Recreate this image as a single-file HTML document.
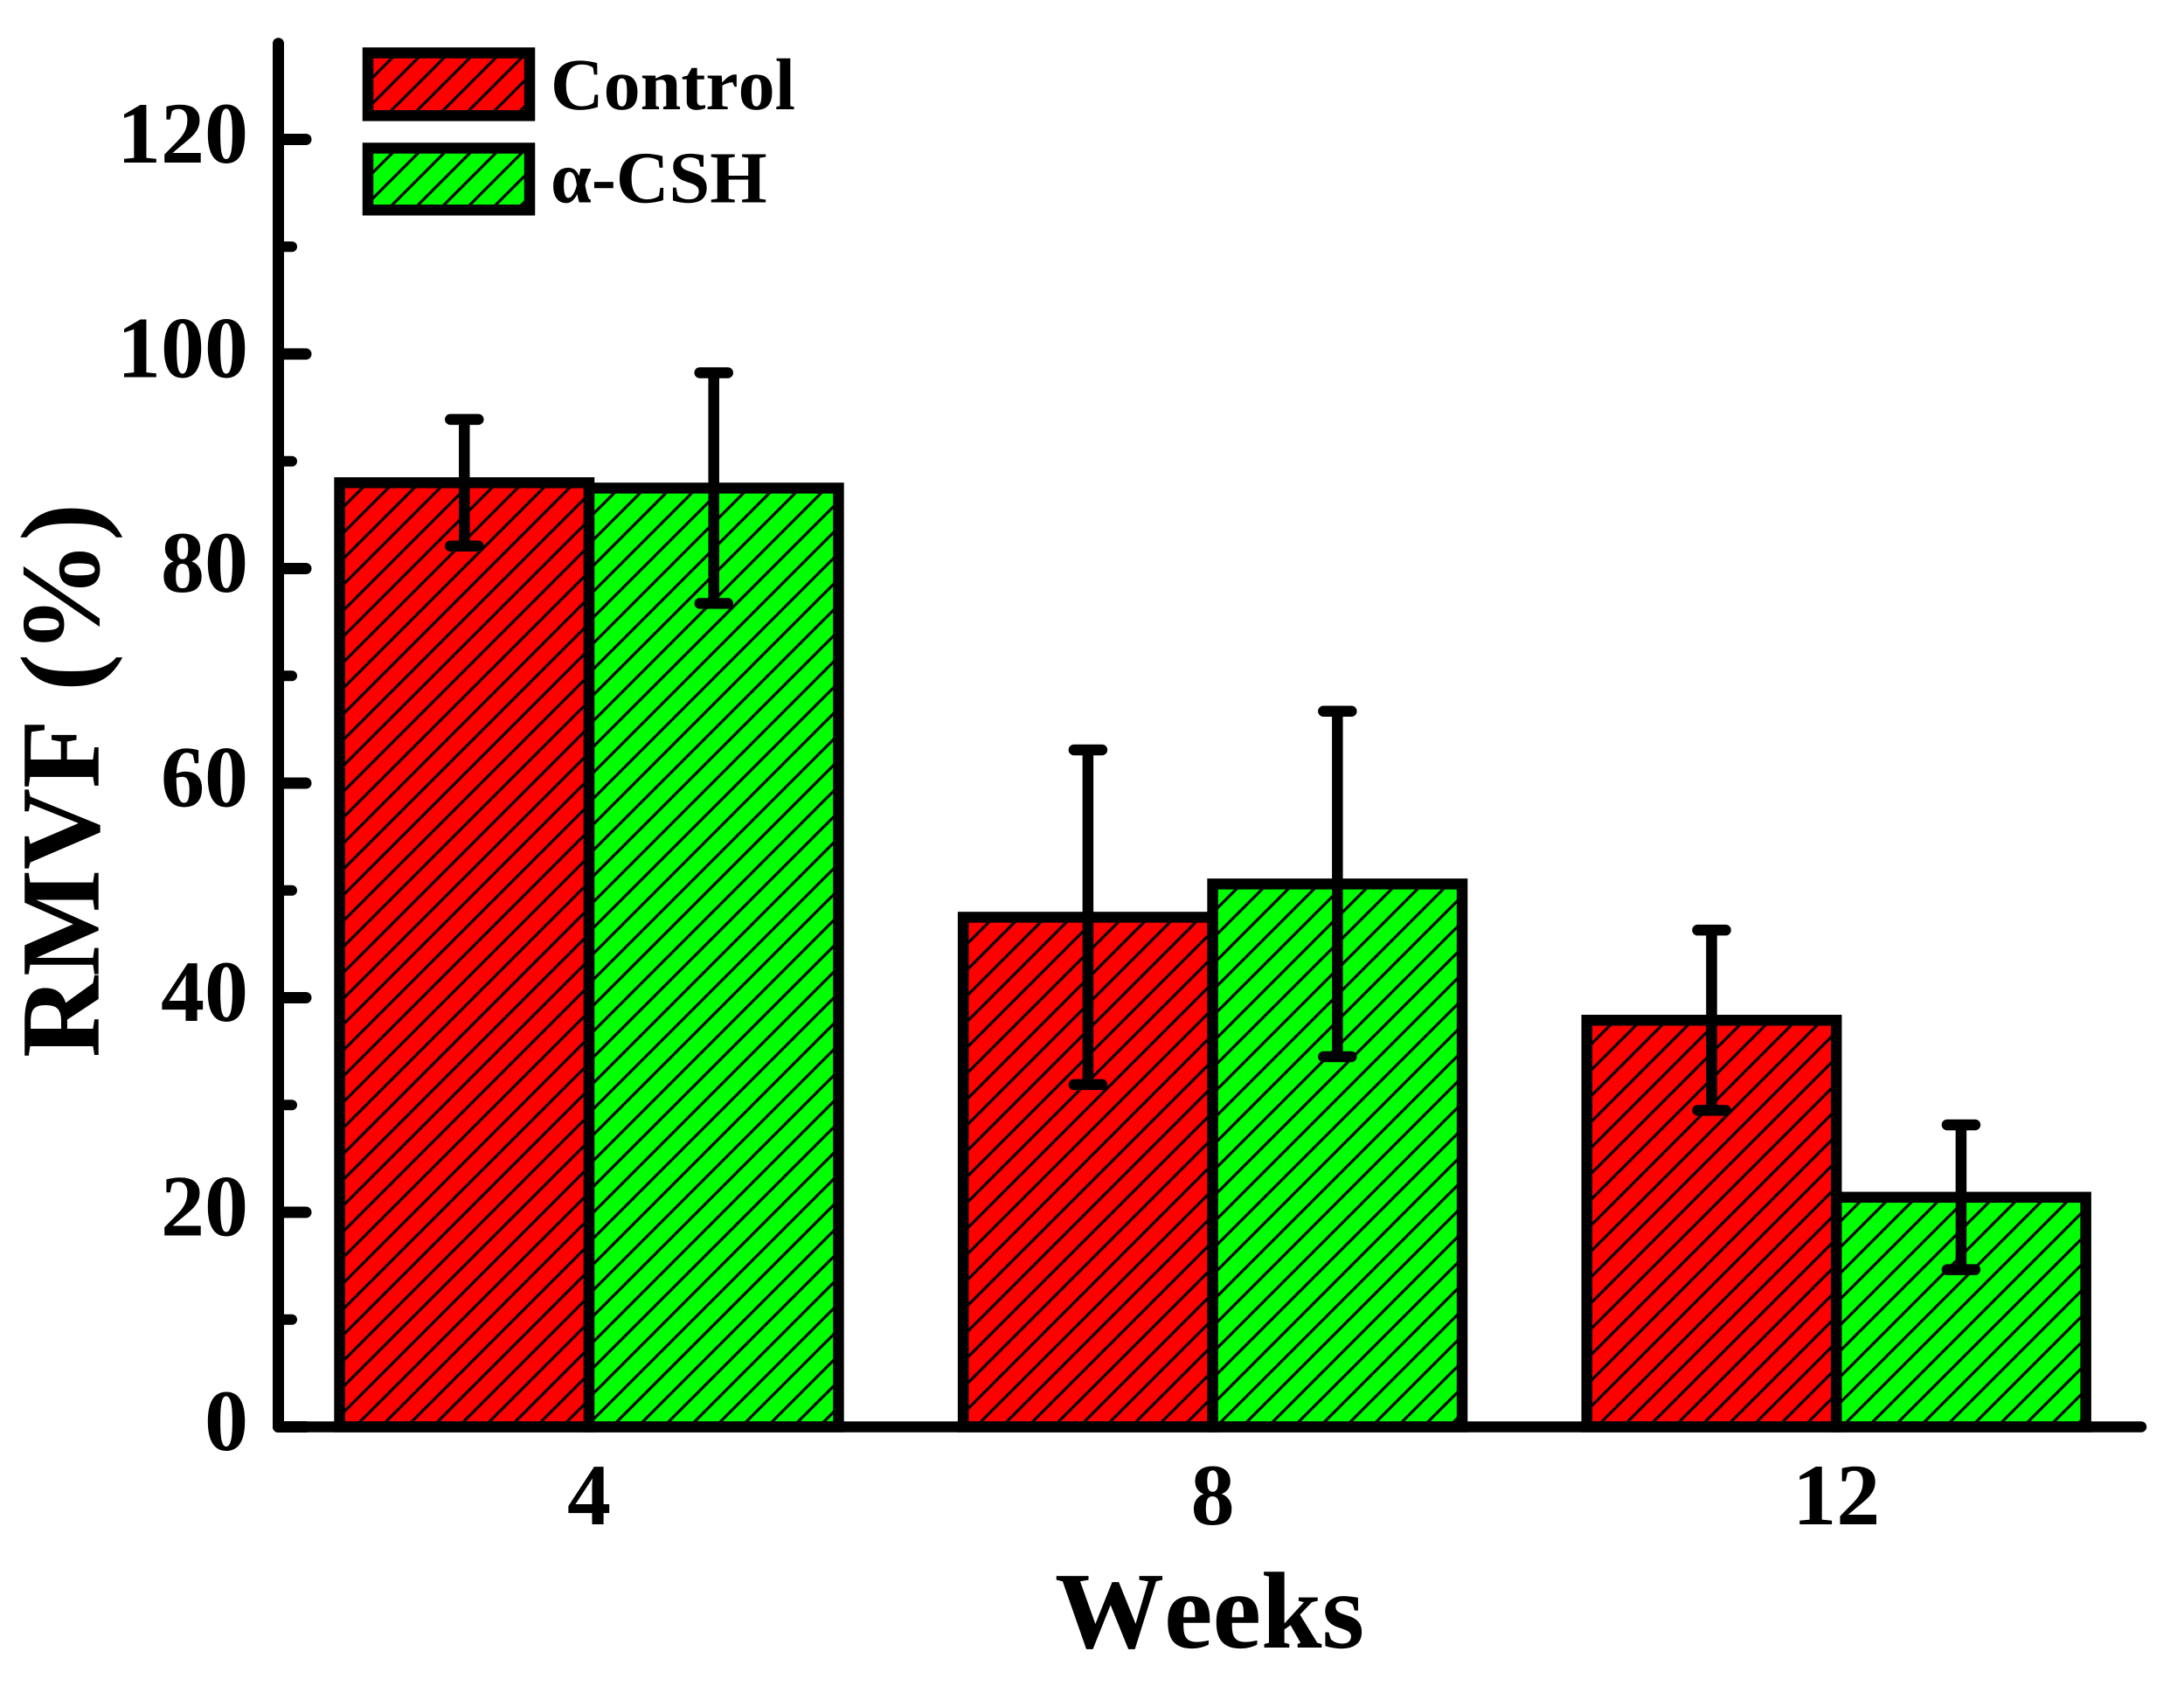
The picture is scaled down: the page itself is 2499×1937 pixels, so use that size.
<!DOCTYPE html>
<html lang="en">
<head>
<meta charset="utf-8">
<title>RMVF by week</title>
<style>
html,body{margin:0;padding:0;background:#fff;width:2499px;height:1937px;overflow:hidden}
svg{display:block}
text{font-family:"Liberation Serif","Noto Serif CJK SC",serif;font-weight:bold;fill:#000;font-kerning:none;text-rendering:geometricPrecision}
</style>
</head>
<body>
<svg id="chart" xmlns="http://www.w3.org/2000/svg" width="2499" height="1937" viewBox="0 0 2499 1937">
  <defs id="defs"></defs>
  <g id="bars"></g>
  <g id="errors"></g>
  <g id="axes"></g>
  <g id="xlabels"></g>
  <g id="ylabels"></g>
  <text x="1207" y="1885" font-size="125">Weeks</text>
  <text transform="translate(112.7 1210) rotate(-90)" font-size="129">RMVF (%)</text>
  <g>
    <rect x="421" y="60.5" width="185" height="71.8" fill="url(#hatch-legend-control)" stroke="#000" stroke-width="12.5" stroke-linejoin="miter"/>
    <text x="630" y="125" font-size="84">Control</text>
    <rect x="421" y="169.5" width="185" height="70.8" fill="url(#hatch-legend-csh)" stroke="#000" stroke-width="12.5" stroke-linejoin="miter"/>
    <text x="630" y="231.5" font-size="84">α-CSH</text>
  </g>
</svg>
<script>
const weeks = [4, 8, 12];
const controlValues = [88.0, 47.5, 37.9];
const controlErrors = [5.9, 15.6, 8.4];
const cshValues = [87.5, 50.6, 21.4];
const cshErrors = [10.75, 16.1, 6.75];
const yMajorTicks = [0, 20, 40, 60, 80, 100, 120];
const yMinorTicks = [10, 30, 50, 70, 90, 110];
const yAxisMax = 130;

const NS = 'http://www.w3.org/2000/svg';
function yScale(v) { return 1632.5 - v * 12.275; }
function xScale(w) { return 674 + (w - 4) * 178.4; }
const barWidth = xScale(5.6) - xScale(4);

function make(tag, parent) {
  const el = document.createElementNS(NS, tag);
  parent.appendChild(el);
  return el;
}
function setLine(el, x1, y1, x2, y2, width, cap) {
  el.setAttribute('x1', x1);
  el.setAttribute('y1', y1);
  el.setAttribute('x2', x2);
  el.setAttribute('y2', y2);
  el.setAttribute('stroke', '#000');
  el.setAttribute('stroke-width', width);
  el.setAttribute('stroke-linecap', cap);
}

const defsEl = document.getElementById('defs');
function addHatch(id, color, shift) {
  const s = 29.6;
  const p = make('pattern', defsEl);
  p.setAttribute('id', id);
  p.setAttribute('patternUnits', 'userSpaceOnUse');
  p.setAttribute('width', s);
  p.setAttribute('height', s);
  p.setAttribute('patternTransform', 'translate(' + shift + ' 0)');
  const bg = make('rect', p);
  bg.setAttribute('width', s);
  bg.setAttribute('height', s);
  bg.setAttribute('fill', color);
  const ln = make('path', p);
  ln.setAttribute('d', 'M-5 5L5 -5M-5 ' + (s + 5) + 'L' + (s + 5) + ' -5M' + (s - 5) + ' ' + (s + 5) + 'L' + (s + 5) + ' ' + (s - 5));
  ln.setAttribute('stroke', '#000');
  ln.setAttribute('stroke-width', 3.2);
  ln.setAttribute('fill', 'none');
}
addHatch('hatch-legend-control', '#ff0000', 11.8);
addHatch('hatch-legend-csh', '#00ff00', 2.4);
addHatch('hatch-control-0', '#ff0000', 25.75);
addHatch('hatch-control-1', '#ff0000', 25.75);
addHatch('hatch-control-2', '#ff0000', 25.75);
addHatch('hatch-csh-0', '#00ff00', 23.7);
addHatch('hatch-csh-1', '#00ff00', 4.7);
addHatch('hatch-csh-2', '#00ff00', 10.4);

const barsG = document.getElementById('bars');
const errorsG = document.getElementById('errors');
const axesG = document.getElementById('axes');
const xLabelsG = document.getElementById('xlabels');
const yLabelsG = document.getElementById('ylabels');

function drawSeries(values, errors, seriesName, fillId, side) {
  values.forEach(function (v, i) {
    const cx = xScale(weeks[i]);
    const left = side < 0 ? cx - barWidth : cx;
    const bar = make('rect', barsG);
    
    
    bar.setAttribute('x', left);
    bar.setAttribute('y', yScale(v));
    bar.setAttribute('width', barWidth);
    bar.setAttribute('height', yScale(0) - yScale(v));
    bar.setAttribute('fill', 'url(#' + fillId + '-' + i + ')');
    bar.setAttribute('stroke', '#000');
    bar.setAttribute('stroke-width', 12.5);
    bar.setAttribute('stroke-linejoin', 'miter');

    const mid = left + barWidth / 2;
    const top = yScale(v + errors[i]);
    const bottom = yScale(v - errors[i]);
    const stem = make('line', errorsG);
    
    
    setLine(stem, mid, top, mid, bottom, 12.5, 'butt');
    const capTop = make('line', errorsG);
    
    
    setLine(capTop, mid - 16, top, mid + 16, top, 12.5, 'round');
    const capBottom = make('line', errorsG);
    
    
    setLine(capBottom, mid - 16, bottom, mid + 16, bottom, 12.5, 'round');
  });
}
drawSeries(controlValues, controlErrors, 'control', 'hatch-control', -1);
drawSeries(cshValues, cshErrors, 'csh', 'hatch-csh', 1);

const yAxis = make('line', axesG);


setLine(yAxis, 318.5, yScale(yAxisMax) + 13, 318.5, yScale(0), 13, 'round');

const xAxis = make('line', axesG);


setLine(xAxis, 318.5, yScale(0), 2450, yScale(0), 12.5, 'round');

yMajorTicks.forEach(function (t) {
  const tick = make('line', axesG);
  
  
  setLine(tick, 318.5, yScale(t), 350, yScale(t), 13, 'round');
  const label = make('text', yLabelsG);
  
  
  label.setAttribute('x', 284);
  label.setAttribute('y', yScale(t) + 26.5);
  label.setAttribute('font-size', 100);
  label.setAttribute('text-anchor', 'end');
  label.textContent = String(t);
});
yMinorTicks.forEach(function (t) {
  const tick = make('line', axesG);
  
  
  setLine(tick, 318.5, yScale(t), 334, yScale(t), 12, 'round');
});
weeks.forEach(function (w) {
  const label = make('text', xLabelsG);
  
  
  label.setAttribute('x', xScale(w));
  label.setAttribute('y', 1744);
  label.setAttribute('font-size', 100);
  label.setAttribute('text-anchor', 'middle');
  label.textContent = String(w);
});
</script>
</body>
</html>
